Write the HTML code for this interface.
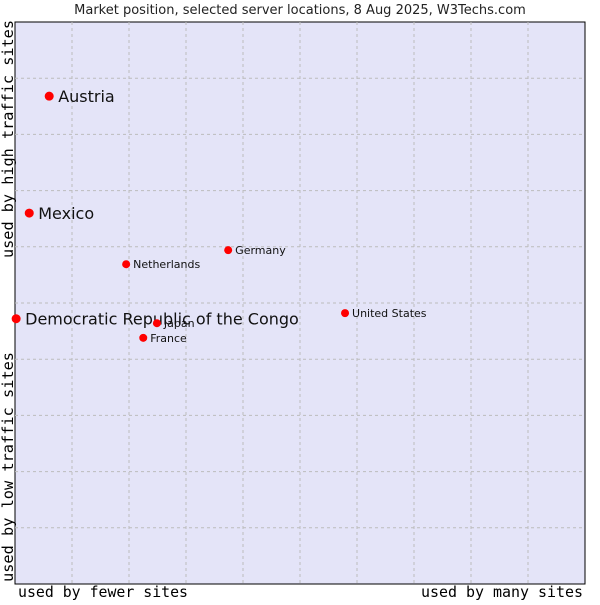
<!DOCTYPE html>
<html><head><meta charset="utf-8"><style>
body{margin:0;background:#fff;}
svg text{font-family:"DejaVu Sans","Liberation Sans",sans-serif;}
</style></head><body>
<svg id="c" width="600" height="600">
<text x="300" y="14" text-anchor="middle" font-size="13" fill="#222">Market position, selected server locations, 8 Aug 2025, W3Techs.com</text>
<rect x="15" y="22" width="570" height="562" fill="#e4e4f8" stroke="#000" stroke-width="1"/>
<g id="grid"></g>
<g id="pts"></g>
<text x="18" y="597" font-size="15" textLength="170" lengthAdjust="spacingAndGlyphs" fill="#000" style="font-family:'DejaVu Sans Mono',monospace">used by fewer sites</text>
<text x="421" y="597" font-size="15" textLength="162" lengthAdjust="spacingAndGlyphs" fill="#000" style="font-family:'DejaVu Sans Mono',monospace">used by many sites</text>
<text transform="translate(13,582) rotate(-90)" font-size="15" textLength="230" lengthAdjust="spacingAndGlyphs" fill="#000" style="font-family:'DejaVu Sans Mono',monospace">used by low traffic sites</text>
<text transform="translate(13,258) rotate(-90)" font-size="15" textLength="238" lengthAdjust="spacingAndGlyphs" fill="#000" style="font-family:'DejaVu Sans Mono',monospace">used by high traffic sites</text>
</svg>
<script>
const names=["Austria","Mexico","Democratic Republic of the Congo","Netherlands","Germany","United States","Japan","France"];
const xVals=[6.0,2.5,0.2,19.5,37.4,57.9,24.9,22.5];
const yVals=[86.8,66.0,47.2,56.9,59.4,48.2,46.4,43.8];
const highlighted=[true,true,true,false,false,false,false,false];
const L=15,T=22,W=570,H=562;
const sx=v=>L+v/100*W, sy=v=>T+H-v/100*H;
const NS="http://www.w3.org/2000/svg";
const g=document.getElementById('grid');
for(let i=1;i<10;i++){
 const a=document.createElementNS(NS,'line');
 a.setAttribute('x1',sx(i*10));a.setAttribute('x2',sx(i*10));a.setAttribute('y1',T);a.setAttribute('y2',T+H);
 a.setAttribute('stroke','#bcbcbc');a.setAttribute('stroke-dasharray','3,3');
 
 
 g.appendChild(a);
 const b=document.createElementNS(NS,'line');
 b.setAttribute('y1',sy(i*10));b.setAttribute('y2',sy(i*10));b.setAttribute('x1',L);b.setAttribute('x2',L+W);
 b.setAttribute('stroke','#bcbcbc');b.setAttribute('stroke-dasharray','3,3');
 
 
 g.appendChild(b);
}
const p=document.getElementById('pts');
names.forEach((n,i)=>{
 const x=sx(xVals[i]),y=sy(yVals[i]);
 const c=document.createElementNS(NS,'circle');
 c.setAttribute('cx',x);c.setAttribute('cy',y);c.setAttribute('r',highlighted[i]?4.5:4);c.setAttribute('fill','#f00');
 
 
 p.appendChild(c);
 const t=document.createElementNS(NS,'text');
 t.setAttribute('x',x+(highlighted[i]?9:7));t.setAttribute('y',y+(highlighted[i]?6:4));
 t.setAttribute('font-size',highlighted[i]?16:11);t.setAttribute('fill','#111');
 t.textContent=n;
 
 
 p.appendChild(t);
});
</script>
</body></html>
